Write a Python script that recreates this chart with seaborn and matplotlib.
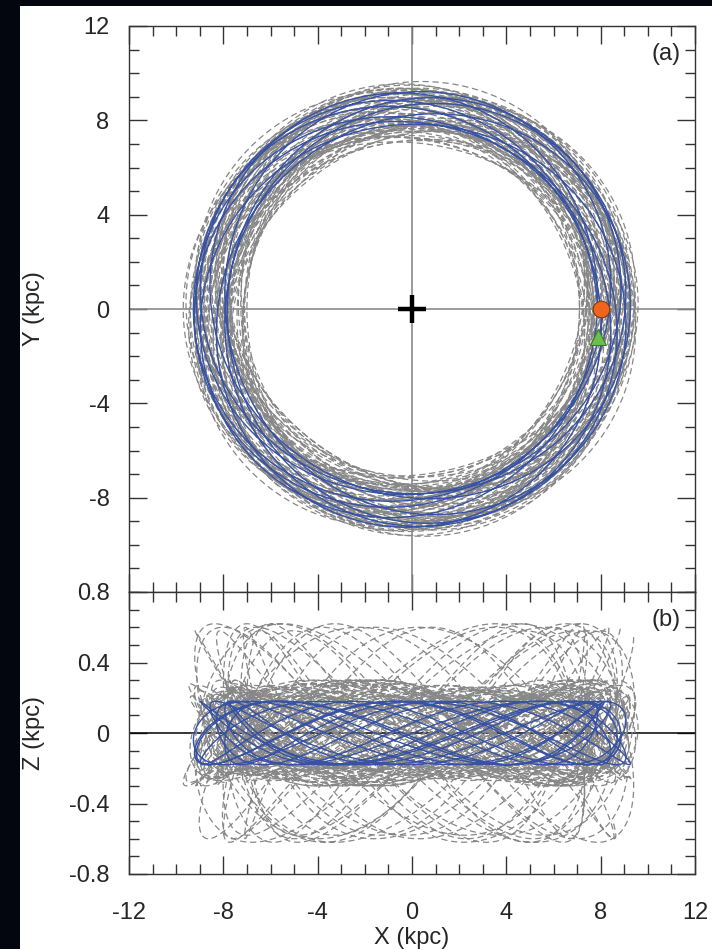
import numpy as np
import pandas as pd
import matplotlib
matplotlib.use("Agg")
import matplotlib.pyplot as plt
import seaborn as sns
from matplotlib.ticker import MultipleLocator

# ---------------- data (orbit parameters) ----------------
# blue orbit: guiding radius, radial amplitude, vertical amplitude (kpc)
blue_R0 = 8.55
blue_Ramp = 0.72
blue_Zamp = 0.18
blue_kappa = 1.42      # radial / azimuthal frequency ratio
blue_nu = 2.62         # vertical / azimuthal frequency ratio
blue_turns = 10.0
blue_phase_R = 2.2
blue_phase_Z = 0.4

# grey dashed (Monte-Carlo) orbits
gray_R0 = [8.20, 8.40, 8.05, 8.60, 8.30, 8.15, 8.50, 8.35, 8.25, 8.45, 8.10, 8.55, 8.30, 8.40, 8.35]
gray_Ramp = [1.20, 0.90, 0.95, 1.10, 0.70, 1.05, 0.80, 1.25, 0.60, 1.05, 1.00, 0.85, 0.95, 0.75, 1.10]
gray_Zamp = [0.62, 0.26, 0.22, 0.30, 0.16, 0.60, 0.24, 0.28, 0.20, 0.27, 0.30, 0.21, 0.25, 0.23, 0.58]
gray_kappa = [1.40, 1.43, 1.38, 1.41, 1.44, 1.39, 1.42, 1.37, 1.45, 1.40, 1.43, 1.41, 1.39, 1.42, 1.40]
gray_nu = [2.05, 2.60, 2.70, 2.50, 2.80, 2.10, 2.65, 2.55, 2.75, 2.58, 2.48, 2.68, 2.62, 2.72, 2.15]
gray_phase_R = [0.0, 1.1, 2.3, 3.0, 4.2, 5.1, 0.6, 1.8, 2.7, 3.6, 4.8, 5.6, 0.3, 2.0, 3.9]
gray_phase_Z = [0.5, 2.0, 3.3, 1.2, 4.4, 2.6, 5.2, 0.9, 3.8, 1.7, 4.9, 0.2, 2.9, 5.7, 4.1]
gray_turns = [6, 5, 5, 5, 5, 6, 5, 5, 5, 5, 5, 5, 5, 5, 4]

# markers
sun_xy = (8.0, 0.0)          # orange circle
tri_xy = (7.9, -1.2)         # green triangle

x_ticks = [-12, -8, -4, 0, 4, 8, 12]
y_ticks = [-8, -4, 0, 4, 8, 12]
z_ticks = [-0.8, -0.4, 0, 0.4, 0.8]
z_ticklabels = ["-0.8", "-0.4", "0", "0.4", "0.8"]


def orbit(R0, A, Z, k, nu, pR, pZ, turns, n=6000):
    t = np.linspace(0, turns * 2 * np.pi, n)
    R = R0 + A * np.cos(k * t + pR)
    phi = -t
    return pd.DataFrame({"x": R * np.cos(phi), "y": R * np.sin(phi),
                         "z": Z * np.cos(nu * t + pZ)})


gray_frames = []
for i in range(len(gray_R0)):
    d = orbit(gray_R0[i], gray_Ramp[i], gray_Zamp[i], gray_kappa[i], gray_nu[i],
              gray_phase_R[i], gray_phase_Z[i], gray_turns[i])
    d["orbit"] = i
    gray_frames.append(d)
gray_df = pd.concat(gray_frames, ignore_index=True)
blue_df = orbit(blue_R0, blue_Ramp, blue_Zamp, blue_kappa, blue_nu,
                blue_phase_R, blue_phase_Z, blue_turns, n=10000)
blue_df["orbit"] = 0

# ---------------- style ----------------
sns.set_theme(style="white")
plt.rcParams["font.family"] = ["Liberation Sans", "DejaVu Sans"]
plt.rcParams["axes.edgecolor"] = "#333333"
plt.rcParams["axes.linewidth"] = 1.0

GRAY = "#878787"
BLUE = "#3953a4"
FS = 17

fig = plt.figure(figsize=(7.12, 9.49), dpi=100, facecolor="#03060e")
bg = plt.Rectangle((20 / 712, 0), 1, 1 - 6 / 949, transform=fig.transFigure,
                   facecolor="white", edgecolor="none", zorder=-10)
fig.patches.append(bg)

L, W = 129 / 712, 566 / 712
ax1 = fig.add_axes([L, 1 - 592 / 949, W, 566 / 949])
ax2 = fig.add_axes([L, 1 - 874 / 949, W, 282 / 949])
for ax in (ax1, ax2):
    ax.set_facecolor("white")

# ---- panel (a) ----
ax1.axvline(0, color="#8a8a8a", lw=1.2, zorder=1)
ax1.axhline(0, color="#8a8a8a", lw=1.2, zorder=1)
sns.lineplot(data=gray_df, x="x", y="y", units="orbit", estimator=None, sort=False,
             color=GRAY, lw=0.9, linestyle=(0, (5, 3)), ax=ax1, legend=False)
sns.lineplot(data=blue_df, x="x", y="y", units="orbit", estimator=None, sort=False,
             color=BLUE, lw=1.0, ax=ax1, legend=False)
ax1.plot([0], [0], marker="+", ms=20, mew=3.2, color="black", zorder=5)
ax1.plot([sun_xy[0]], [sun_xy[1]], marker="o", ms=12, mfc="#f0641e", mec="#7a3a10",
         mew=0.8, zorder=6)
ax1.plot([tri_xy[0]], [tri_xy[1]], marker="^", ms=11, mfc="#6cc04a", mec="#3a7a2a",
         mew=0.8, zorder=6)
ax1.set_xlim(-12, 12)
ax1.set_ylim(-12, 12)
ax1.set_xticks(x_ticks)
ax1.set_yticks(y_ticks)
ax1.set_yticklabels([str(v) for v in y_ticks])
ax1.tick_params(axis="x", labelbottom=False)
ax1.set_xlabel("")
ax1.set_ylabel("Y (kpc)", fontsize=FS)
ax1.yaxis.set_label_coords(-0.148, 0.5)
ax1.text(0.975, 0.95, "(a)", transform=ax1.transAxes, ha="right", va="center", fontsize=FS)

# ---- panel (b) ----
ax2.axhline(0, color="black", lw=1.1, zorder=1)
sns.lineplot(data=gray_df, x="x", y="z", units="orbit", estimator=None, sort=False,
             color=GRAY, lw=0.9, linestyle=(0, (5, 3)), ax=ax2, legend=False)
sns.lineplot(data=blue_df, x="x", y="z", units="orbit", estimator=None, sort=False,
             color=BLUE, lw=1.0, ax=ax2, legend=False)
ax2.set_xlim(-12, 12)
ax2.set_ylim(-0.8, 0.8)
ax2.set_xticks(x_ticks)
ax2.set_xticklabels([str(v) for v in x_ticks])
ax2.set_yticks(z_ticks)
ax2.set_yticklabels(z_ticklabels)
ax2.set_xlabel("X (kpc)", fontsize=FS, labelpad=2)
ax2.set_ylabel("Z (kpc)", fontsize=FS)
ax2.yaxis.set_label_coords(-0.148, 0.5)
ax2.text(0.975, 0.9, "(b)", transform=ax2.transAxes, ha="right", va="center", fontsize=FS)

ax1.xaxis.set_minor_locator(MultipleLocator(1))
ax1.yaxis.set_minor_locator(MultipleLocator(1))
ax2.xaxis.set_minor_locator(MultipleLocator(1))
ax2.yaxis.set_minor_locator(MultipleLocator(0.1))

for ax in (ax1, ax2):
    ax.tick_params(which="both", direction="in", top=True, right=True, left=True, bottom=True,
                   color="#333333", width=1.0, labelsize=FS, pad=14)
    ax.tick_params(which="major", length=13)
    ax.tick_params(which="minor", length=7)
    for s in ax.spines.values():
        s.set_visible(True)
        s.set_color("#333333")
ax2.tick_params(axis="x", pad=20)

fig.savefig("out.png", dpi=100, facecolor=fig.get_facecolor())
